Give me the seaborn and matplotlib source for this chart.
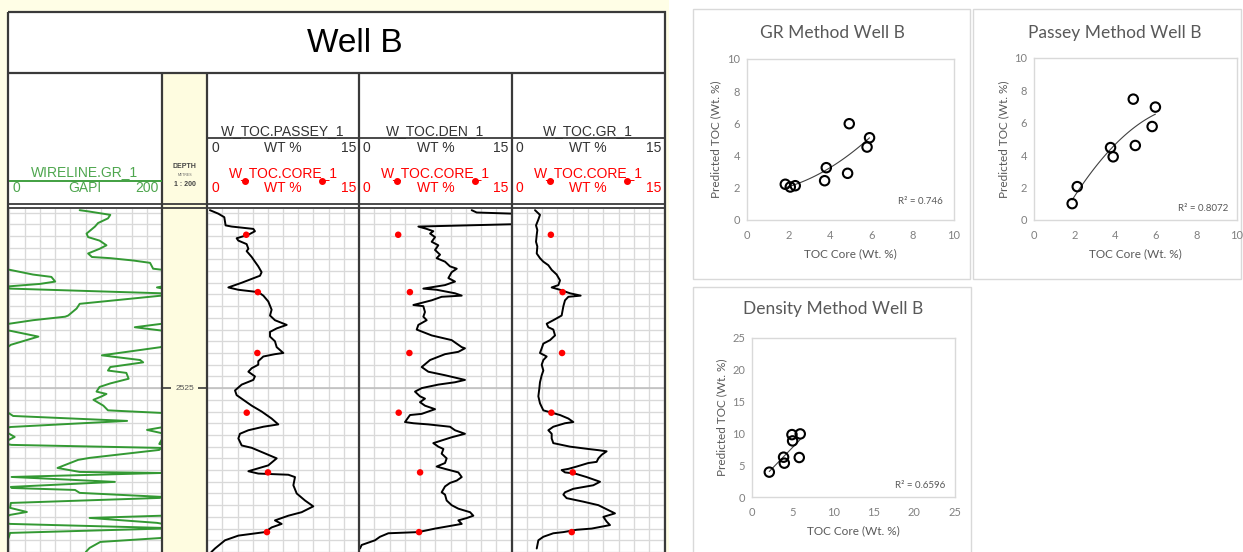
import numpy as np
import matplotlib
matplotlib.use("Agg")
import matplotlib.pyplot as plt
import seaborn as sns
from matplotlib.patches import Rectangle

sns.set_style("white")
plt.rcParams['font.family'] = ['Liberation Sans', 'DejaVu Sans']

W, H = 1243, 552

# ---- log data (depth in m, TOC in wt %, GR in GAPI) ----
core_depth = [2511.9, 2516.8, 2522.0, 2527.1, 2532.2, 2537.3]
core_toc = [3.85, 5.0, 4.95, 3.9, 6.0, 5.9]

passey_depth = [2509.8, 2510.1, 2510.4, 2511.1, 2511.2, 2511.4, 2511.6, 2511.9, 2512.2, 2512.4,
                2512.7, 2513.1, 2513.3, 2513.8, 2514.2, 2514.6, 2515.1, 2515.4, 2516.0, 2516.4,
                2516.6, 2516.8, 2517.1, 2517.6, 2518.3, 2518.8, 2519.2, 2519.6, 2519.9, 2520.2,
                2520.6, 2521.0, 2521.5, 2522.0, 2522.1, 2522.3, 2522.7, 2523.0, 2523.3, 2523.6,
                2524.0, 2524.3, 2524.7, 2525.2, 2525.6, 2526.0, 2526.5, 2527.0, 2527.6, 2528.1,
                2528.3, 2528.6, 2528.9, 2529.3, 2529.9, 2530.1, 2531.0, 2531.6, 2532.1, 2532.3,
                2532.4, 2532.6, 2533.3, 2534.0, 2534.6, 2535.1, 2535.6, 2535.9, 2536.3, 2536.6,
                2536.9, 2537.3, 2537.6, 2538.0, 2538.7, 2539.0]
passey_toc = [0.26, 1.09, 1.68, 1.81, 2.41, 4.55, 4.71, 4.06, 2.90, 3.07,
              3.89, 4.06, 3.89, 4.39, 4.71, 5.04, 5.37, 5.21, 3.40, 2.08,
              3.07, 5.04, 5.54, 6.03, 6.36, 6.20, 6.69, 7.85, 6.86, 6.20,
              6.20, 6.69, 6.86, 7.52, 6.69, 5.54, 5.04, 5.04, 4.39, 4.06,
              4.71, 4.55, 3.40, 2.74, 2.90, 3.56, 4.39, 5.37, 6.36, 7.02,
              5.54, 4.06, 3.23, 3.07, 3.40, 4.39, 6.86, 6.03, 4.06, 5.04,
              8.01, 8.67, 8.51, 8.84, 9.66, 10.48, 9.33, 8.01, 6.69, 7.35,
              6.36, 5.70, 3.07, 1.75, 0.76, 0.40]

den_depth = [2509.8, 2510.0, 2510.1, 2510.6, 2511.0, 2511.2, 2511.4, 2511.6, 2511.8, 2512.1,
             2512.5, 2512.8, 2513.2, 2513.6, 2513.9, 2514.2, 2514.6, 2514.8, 2515.1, 2515.6,
             2515.9, 2516.2, 2516.5, 2516.6, 2516.9, 2517.1, 2517.2, 2517.5, 2517.9, 2518.0,
             2518.5, 2518.9, 2519.2, 2519.6, 2520.0, 2520.5, 2520.9, 2521.5, 2521.6, 2521.9,
             2522.1, 2522.6, 2523.2, 2523.6, 2523.9, 2524.3, 2524.5, 2524.7, 2525.0, 2525.3,
             2525.7, 2525.9, 2526.2, 2526.5, 2526.8, 2527.2, 2527.3, 2527.7, 2527.9, 2528.0,
             2528.1, 2528.3, 2528.6, 2528.9, 2529.2, 2529.7, 2530.0, 2530.2, 2530.6, 2531.0,
             2531.4, 2531.7, 2531.9, 2532.2, 2532.6, 2532.9, 2533.1, 2533.4, 2533.9, 2534.1,
             2534.6, 2535.0, 2535.3, 2535.6, 2535.9, 2536.1, 2536.3, 2536.6, 2537.0, 2537.3,
             2537.4, 2537.7, 2538.0, 2538.4, 2538.7]
den_toc = [11.07, 11.56, 15.2, 16.0, 15.2, 5.83, 6.65, 7.30, 6.98, 7.47,
           7.14, 7.79, 7.47, 7.96, 7.63, 8.45, 8.94, 9.60, 9.10, 8.78,
           9.43, 8.45, 6.32, 7.63, 9.43, 10.09, 8.12, 7.14, 5.34, 6.32,
           6.48, 6.32, 6.65, 5.83, 5.67, 7.14, 9.10, 10.09, 10.41, 9.76,
           8.45, 6.98, 6.16, 6.81, 8.45, 10.41, 9.43, 7.79, 6.16, 5.50,
           5.99, 6.48, 5.99, 6.48, 7.47, 6.16, 5.01, 4.68, 4.52, 5.34,
           6.81, 8.94, 9.43, 10.41, 9.10, 7.30, 7.79, 8.29, 8.12, 8.61,
           8.45, 7.63, 8.45, 9.76, 10.09, 9.60, 8.94, 8.45, 8.12, 8.45,
           8.61, 9.10, 9.76, 10.91, 11.23, 10.58, 9.76, 10.09, 7.47, 5.83,
           2.88, 2.06, 1.57, 0.26, 0.10]

grtoc_depth = [2509.8, 2510.2, 2510.6, 2511.1, 2511.5, 2511.9, 2512.5, 2512.9, 2513.5, 2513.9,
               2514.2, 2514.5, 2514.9, 2515.3, 2515.8, 2516.2, 2516.4, 2516.6, 2516.9, 2517.1,
               2517.2, 2517.5, 2518.0, 2518.8, 2519.2, 2519.5, 2519.8, 2520.0, 2520.5, 2520.9,
               2521.2, 2521.6, 2522.0, 2522.3, 2522.6, 2523.0, 2523.5, 2523.9, 2524.5, 2525.0,
               2525.7, 2526.3, 2526.9, 2527.1, 2527.3, 2527.6, 2527.9, 2528.0, 2528.3, 2528.6,
               2528.9, 2529.3, 2529.7, 2530.0, 2530.2, 2530.3, 2530.4, 2530.7, 2531.0, 2531.3,
               2531.4, 2531.7, 2531.9, 2532.0, 2532.2, 2532.3, 2532.6, 2533.0, 2533.3, 2533.6,
               2533.9, 2534.1, 2534.4, 2534.7, 2535.0, 2535.7, 2536.0, 2536.4, 2536.7, 2537.0,
               2537.1, 2537.3, 2537.4, 2537.7, 2538.0, 2538.7]
grtoc_toc = [2.29, 2.78, 2.62, 2.39, 2.52, 2.46, 2.39, 2.52, 2.46, 2.78,
             3.11, 3.60, 3.93, 4.42, 4.75, 4.59, 3.93, 4.75, 5.73, 6.78,
             5.57, 5.24, 5.08, 4.91, 4.09, 3.44, 3.60, 4.09, 4.26, 3.77,
             3.11, 2.95, 2.78, 3.44, 3.11, 2.95, 3.11, 2.95, 2.78, 2.72,
             2.62, 2.78, 3.11, 3.93, 4.75, 5.57, 6.06, 5.24, 4.09, 3.60,
             3.93, 3.93, 4.09, 5.73, 7.53, 8.52, 9.33, 8.84, 8.52, 8.35,
             7.53, 6.39, 5.57, 4.91, 5.24, 6.22, 7.37, 8.68, 8.02, 6.06,
             5.24, 5.08, 5.40, 7.04, 8.52, 10.15, 9.01, 9.33, 9.66, 7.86,
             6.39, 5.08, 4.09, 3.11, 2.62, 2.46]

# wireline GR, true GAPI; values above 200 show on the wrap-around (backup) scale
gr_depth = [2509.8, 2509.9, 2510.2, 2510.5, 2510.9, 2511.2, 2511.8, 2512.1, 2512.4, 2512.8,
            2513.1, 2513.5, 2513.8, 2513.9, 2514.1, 2514.3, 2514.8, 2514.9, 2515.3, 2515.5,
            2515.9, 2516.1, 2516.3, 2516.4, 2516.5, 2516.9, 2517.0, 2517.1, 2517.8, 2518.2,
            2518.8, 2518.9, 2519.2, 2519.5, 2519.8, 2520.1, 2520.6, 2521.3, 2521.5, 2522.2,
            2522.6, 2522.8, 2523.2, 2523.5, 2523.7, 2524.2, 2524.6, 2524.9, 2525.3, 2525.5,
            2525.7, 2526.0, 2526.5, 2526.9, 2527.12, 2527.38, 2527.8, 2528.32, 2528.57, 2528.83,
            2529.17, 2529.43, 2529.77, 2529.85, 2530.11, 2530.28, 2530.96, 2531.13, 2531.82, 2532.16,
            2532.25, 2532.59, 2533.01, 2533.44, 2533.53, 2533.7, 2533.95, 2534.29, 2534.38, 2534.81,
            2535.23, 2535.58, 2535.83, 2535.9, 2536.09, 2536.51, 2536.6, 2536.94, 2537.0, 2537.37,
            2537.8, 2538.14, 2538.65, 2539.0]
gr_api = [92, 103, 132, 129, 116, 112, 101, 103, 118, 127,
          118, 103, 108, 132, 162, 184, 188, 201, 231, 255,
          260, 240, 201, 193, 201, 399, 410, 399, 292, 288,
          277, 273, 231, 200, 164, 201, 238, 202, 198, 121,
          171, 175, 132, 129, 153, 156, 132, 118, 114, 127,
          121, 110, 123, 129, 199, 205, 354, 202, 180, 198,
          207, 199, 196, 203, 399, 396, 305, 290, 263, 292,
          399, 203, 338, 202, 203, 286, 292, 399, 397, 202,
          201, 223, 201, 199, 105, 193, 201, 399, 399, 201,
          199, 119, 105, 100]

# ---- cross plot data ----
gr_core = [1.85, 2.09, 2.33, 3.75, 3.83, 4.86, 4.94, 5.80, 5.92]
gr_pred = [2.22, 2.05, 2.13, 2.44, 3.25, 2.90, 5.98, 4.53, 5.11]
passey_core = [1.88, 2.13, 3.77, 3.90, 4.89, 4.99, 5.82, 5.98]
passey_pred = [1.01, 2.06, 4.47, 3.90, 7.46, 4.60, 5.77, 6.97]
den_core = [2.13, 3.89, 3.98, 4.92, 5.00, 5.82, 5.94]
den_pred = [3.91, 6.26, 5.32, 9.81, 8.82, 6.21, 9.92]
r2_labels = ['0.746', '0.8072', '0.6596']

DEPTH_TOP, DEPTH_BOT = 2509.7, 2539.0
LINE = '#3a3a3a'
GREEN_TXT = '#4ea64e'
GREEN = '#339933'
RED = '#ff0000'


def px(x0, y0, x1, y1):
    return [x0 / W, 1 - y1 / H, (x1 - x0) / W, (y1 - y0) / H]


fig = plt.figure(figsize=(W / 100, H / 100), dpi=100)

bg = fig.add_axes([0, 0, 1, 1], zorder=0)
bg.set_xlim(0, W)
bg.set_ylim(H, 0)
bg.axis('off')
bg.add_patch(Rectangle((0, 0), 669, H, color='#fffee6', lw=0))
bg.add_patch(Rectangle((8, 12), 657, H, color='white', lw=0))
bg.add_patch(Rectangle((162, 73), 45, H, color='#fefce0', lw=0))
for (x0, y0, x1, y1) in [(693, 9, 970, 279), (973, 9, 1241, 279), (693, 287, 971, 560)]:
    bg.add_patch(Rectangle((x0, y0), x1 - x0, y1 - y0, fill=False, ec='#d9d9d9', lw=1))


def track(x0, x1, xmax):
    ax = fig.add_axes(px(x0, 209, x1, H), facecolor='none', zorder=2)
    ax.set_xlim(0, xmax)
    ax.set_ylim(DEPTH_BOT, DEPTH_TOP)
    ax.set_xticks(np.linspace(0, xmax, 11))
    ax.set_yticks(np.arange(2510, 2540, 1))
    ax.grid(True, color='#d9d9d9', lw=0.95)
    ax.tick_params(length=0, labelbottom=False, labelleft=False)
    for s in ax.spines.values():
        s.set_visible(False)
    ax.axhline(2525, color='#bdbdbd', lw=1.1)
    return ax


ax_gr = track(9.3, 162.3, 200)
for shift in (0, 200):
    sns.lineplot(x=np.array(gr_api) - shift, y=gr_depth, sort=False, estimator=None, ax=ax_gr,
                 color=GREEN, lw=1.4)
ax_gr.set_xlim(0, 200)
ax_gr.set_ylim(DEPTH_BOT, DEPTH_TOP)
ax_gr.set_xlabel('')
ax_gr.set_ylabel('')

tracks = [(207.3, 359.0, passey_toc, passey_depth, 'W_TOC.PASSEY_1'),
          (359.0, 511.7, den_toc, den_depth, 'W_TOC.DEN_1'),
          (511.7, 664.3, grtoc_toc, grtoc_depth, 'W_TOC.GR_1')]
for x0, x1, vals, dep, name in tracks:
    ax = track(x0, x1, 15)
    sns.lineplot(x=vals, y=dep, sort=False, estimator=None, ax=ax, color='black', lw=1.4)
    sns.scatterplot(x=core_toc, y=core_depth, ax=ax, color=RED, s=22, edgecolor='none', zorder=3)
    ax.set_xlim(0, 15)
    ax.set_ylim(DEPTH_BOT, DEPTH_TOP)
    ax.set_xlabel('')
    ax.set_ylabel('')

ax_d = fig.add_axes(px(162.3, 209, 207.3, H), facecolor='none', zorder=2)
ax_d.set_xlim(0, 1)
ax_d.set_ylim(DEPTH_BOT, DEPTH_TOP)
ax_d.axis('off')
ax_d.hlines(2525, 0, 0.2, color=LINE, lw=1.2)
ax_d.hlines(2525, 0.8, 1, color=LINE, lw=1.2)
ax_d.text(0.5, 2525, '2525', ha='center', va='center', fontsize=6, color='#555555')

# overlay: borders and header texts
ov = fig.add_axes([0, 0, 1, 1], zorder=5, facecolor='none')
ov.set_xlim(0, W)
ov.set_ylim(H, 0)
ov.axis('off')
ov.add_patch(Rectangle((8, 12), 657, H, fill=False, ec=LINE, lw=1.6))
ov.hlines([73], 8, 665, color=LINE, lw=1.6)
ov.hlines([204, 208], 8, 665, color=LINE, lw=1.3)
ov.vlines([162.3, 207.3, 359.0, 511.7], 73, H, color=LINE, lw=1.6)
ov.hlines(138, 207.3, 665, color=LINE, lw=1.3)
ov.text(355, 43, 'Well B', ha='center', va='center', fontsize=24, color='black')

for x0, x1, vals, dep, name in tracks:
    xc = (x0 + x1) / 2
    ov.text(xc, 131, name, ha='center', va='center', fontsize=10, color='#333333')
    ov.text(x0 + 4, 148, '0', ha='left', va='center', fontsize=10, color='#333333')
    ov.text(xc, 148, 'WT %', ha='center', va='center', fontsize=10, color='#333333')
    ov.text(x1 - 3, 148, '15', ha='right', va='center', fontsize=10, color='#333333')
    ov.text(xc, 173, 'W_TOC.CORE_1', ha='center', va='center', fontsize=10, color=RED)
    ov.plot([x0 + 38, x1 - 37], [181, 181], 'o', color=RED, ms=4, ls='none')
    ov.text(x0 + 4, 188, '0', ha='left', va='center', fontsize=10, color=RED)
    ov.text(xc, 188, 'WT %', ha='center', va='center', fontsize=10, color=RED)
    ov.text(x1 - 3, 188, '15', ha='right', va='center', fontsize=10, color=RED)

ov.text(85, 172, 'WIRELINE.GR_1', ha='center', va='center', fontsize=10, color=GREEN_TXT)
ov.hlines(181, 9.3, 162.3, color=GREEN, lw=1.3)
ov.text(13, 188, '0', ha='left', va='center', fontsize=10, color=GREEN_TXT)
ov.text(85, 188, 'GAPI', ha='center', va='center', fontsize=10, color=GREEN_TXT)
ov.text(159, 188, '200', ha='right', va='center', fontsize=10, color=GREEN_TXT)
ov.text(184.8, 167, 'DEPTH', ha='center', va='center', fontsize=5, color='#444444', weight='bold')
ov.text(184.8, 175, 'METRES', ha='center', va='center', fontsize=2.5, color='#666666')
ov.text(184.8, 184, '1 : 200', ha='center', va='center', fontsize=5, color='#444444', weight='bold')

# ---- cross plots ----
FONT = ['Lato', 'DejaVu Sans']
TXT = '#595959'


def xplot(rect, core, pred, order, lim, step, title, title_xy, r2, r2_xy):
    ax = fig.add_axes(px(*rect), zorder=3)
    sns.regplot(x=core, y=pred, order=order, ci=None, scatter=False, ax=ax,
                line_kws=dict(color='#404040', lw=0.8))
    sns.scatterplot(x=core, y=pred, ax=ax, s=46, facecolors='none', edgecolor='black',
                    linewidth=1.5, zorder=3)
    ticks = np.arange(0, lim + 0.1, step)
    ax.set_xlim(0, lim)
    ax.set_ylim(0, lim)
    ax.set_xticks(ticks)
    ax.set_yticks(ticks)
    ax.set_xticklabels([f'{v:g}' for v in ticks], family=FONT)
    ax.set_yticklabels([f'{v:g}' for v in ticks], family=FONT)
    ax.tick_params(length=0, labelsize=8, colors='#808080')
    ax.tick_params(axis='x', pad=7)
    ax.tick_params(axis='y', pad=5)
    for s in ax.spines.values():
        s.set_color('#d9d9d9')
        s.set_linewidth(1)
    ax.set_xlabel('')
    ax.set_ylabel('')
    ax.text(0.5, -0.21, 'TOC Core (Wt. %)', transform=ax.transAxes, ha='center', va='center',
            fontsize=8.5, color=TXT, family=FONT)
    ax.text(-0.15, 0.5, 'Predicted TOC (Wt. %)', transform=ax.transAxes, ha='center',
            va='center', rotation=90, fontsize=8.5, color=TXT, family=FONT)
    ax.text(r2_xy[0], r2_xy[1], 'R² = ' + r2, transform=ax.transAxes, ha='right', va='center',
            fontsize=7, color=TXT, family=FONT)
    ov.text(title_xy[0], title_xy[1], title, ha='center', va='center', fontsize=12.5,
            color=TXT, family=FONT)
    return ax


xplot((747, 59, 954, 220), gr_core, gr_pred, 2, 10, 2, 'GR Method Well B', (832, 33),
      r2_labels[0], (0.947, 0.114))
xplot((1034, 58, 1237, 220), passey_core, passey_pred, 2, 10, 2, 'Passey Method Well B',
      (1115, 33), r2_labels[1], (0.956, 0.074))
xplot((752, 338, 955, 497), den_core, den_pred, 1, 25, 5, 'Density Method Well B', (833, 309),
      r2_labels[2], (0.95, 0.075))

fig.savefig('out.png', dpi=100)
